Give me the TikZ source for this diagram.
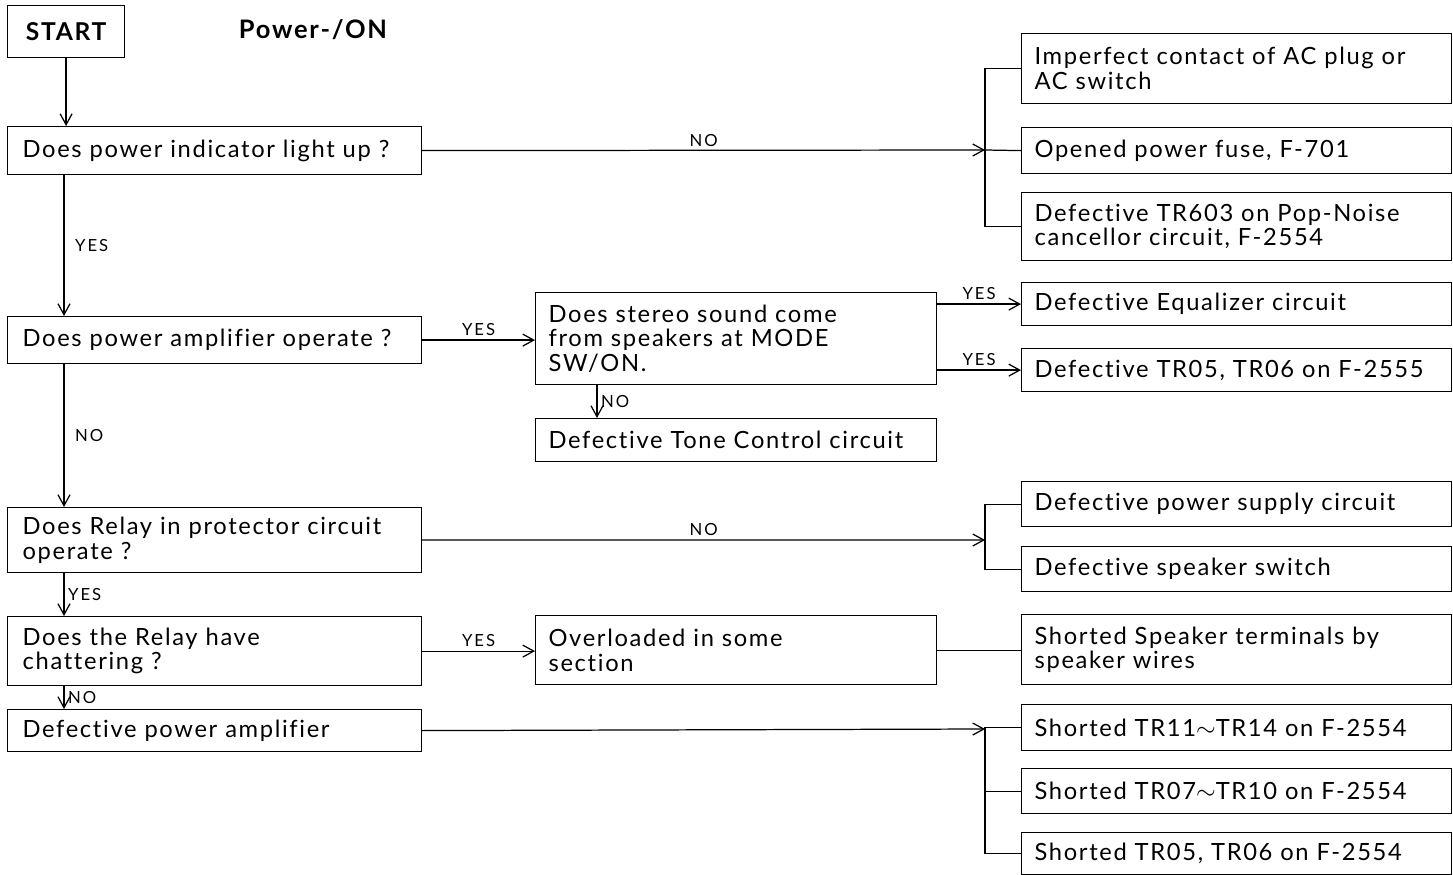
\documentclass[tikz,border=0pt]{standalone}
\usepackage{fontspec}
\setmainfont{Lato}[LetterSpace=7, Ligatures=NoCommon]
\usetikzlibrary{arrows.meta}
\tikzset{
  box/.style={draw, anchor=north west, align=left, inner ysep=1pt, font=\fontsize{13.5}{14}\selectfont},
  lbox/.style={box, text width=7.68cm, inner xsep=0.3cm},
  mbox/.style={box, text width=7.5cm, inner xsep=0.26cm},
  rbox/.style={box, text width=8.08cm, inner xsep=0.26cm},
  lbl/.style={font=\fontsize{9.5}{10}\selectfont\addfontfeature{LetterSpace=12}, inner sep=2pt},
}
\begin{document}
\begin{tikzpicture}[x=0.02cm, y=-0.02cm, line width=0.7pt, >={Straight Barb[length=2.2mm,width=2.4mm]}]
    \useasboundingbox (0,0) rectangle (1453,875);
    % left column
    \node[draw, anchor=north west, minimum width=2.34cm, minimum height=1.04cm, font=\fontsize{14}{15}\selectfont\bfseries] (start) at (7,5) {START};
    \node[font=\fontsize{14.5}{15}\selectfont\bfseries] (title) at (313,30) {Power-/ON};
    \node[lbox, minimum height=0.96cm] (q1) at (7,126) {Does power indicator light up ?};
    \node[lbox, minimum height=0.94cm] (q2) at (7,316) {Does power amplifier operate ?};
    \node[lbox, minimum height=1.3cm] (q4) at (7,507) {Does Relay in protector circuit\\operate ?};
    \node[lbox, minimum height=1.38cm] (q5) at (7,616) {Does the Relay have\\chattering ?};
    \node[lbox, minimum height=0.84cm] (amp) at (7,709) {Defective power amplifier};
    % middle column
    \node[mbox, minimum height=1.84cm] (q3) at (535,292) {Does stereo sound come\\from speakers at MODE\\SW/ON.};
    \node[mbox, minimum height=0.86cm] (tone) at (535,418) {Defective Tone Control circuit};
    \node[mbox, minimum height=1.38cm] (load) at (535,615) {Overloaded in some\\section};
    % right column
    \node[rbox, minimum height=1.4cm] (r1) at (1021,33) {Imperfect contact of AC plug or\\AC switch};
    \node[rbox, minimum height=0.92cm] (r2) at (1021,127) {Opened power fuse, F-701};
    \node[rbox, minimum height=1.36cm] (r3) at (1021,192) {Defective TR603 on Pop-Noise\\cancellor circuit, F-2554};
    \node[rbox, minimum height=0.86cm] (r4) at (1021,282) {Defective Equalizer circuit};
    \node[rbox, minimum height=0.86cm] (r5) at (1021,348) {Defective TR05, TR06 on F-2555};
    \node[rbox, minimum height=0.9cm] (r6) at (1021,481) {Defective power supply circuit};
    \node[rbox, minimum height=0.9cm] (r7) at (1021,546) {Defective speaker switch};
    \node[rbox, minimum height=1.4cm] (r8) at (1021,614) {Shorted Speaker terminals by\\speaker wires};
    \node[rbox, minimum height=0.92cm] (r9) at (1021,704) {Shorted TR11$\sim$TR14 on F-2554};
    \node[rbox, minimum height=0.9cm] (r10) at (1021,768) {Shorted TR07$\sim$TR10 on F-2554};
    \node[rbox, minimum height=0.84cm] (r11) at (1021,832) {Shorted TR05, TR06 on F-2554};
    % junctions
    \coordinate (j1) at (985,150);
    \coordinate (j2) at (985,540);
    \coordinate (j3) at (985,729);

    % vertical flow
    \draw[->] (start.south) -- (start.south |- q1.north);
    \draw[->] ([xshift=1.14cm]q1.south west) -- node[lbl, right=4pt] {YES} ([xshift=1.14cm]q2.north west);
    \draw[->] ([xshift=1.14cm]q2.south west) -- node[lbl, right=4pt] {NO} ([xshift=1.14cm]q4.north west);
    \draw[->] ([xshift=1.14cm]q4.south west) -- node[lbl, right] {YES} ([xshift=1.14cm]q5.north west);
    \draw[->] ([xshift=1.14cm]q5.south west) -- node[lbl, right] {NO} ([xshift=1.14cm]amp.north west);
    \draw[->] ([xshift=1.24cm]q3.south west) -- node[lbl, right] {NO} ([xshift=1.24cm]tone.north west);

    % horizontal flow
    \draw[->] (q1.east) -- node[lbl, above] {NO} (j1);
    \draw (r1.west) -| (j1) |- (r3.west);
    \draw (j1) -- (r2.west);
    \draw[->] (q2.east) -- node[lbl, above] {YES} (q2.east -| q3.west);
    \draw[->] (q3.east |- r4.west) -- node[lbl, above] {YES} (r4.west);
    \draw[->] (q3.east |- r5.west) -- node[lbl, above] {YES} (r5.west);
    \draw[->] (q4.east) -- node[lbl, above] {NO} (j2);
    \draw (r6.west) -| (j2) |- (r7.west);
    \draw[->] (q5.east) -- node[lbl, above] {YES} (q5.east -| load.west);
    \draw (load.east) -- (load.east -| r8.west);
    \draw[->] (amp.east) -- (j3);
    \draw (r9.west) -| (j3) |- (r11.west);
    \draw (j3 |- r10.west) -- (r10.west);
\end{tikzpicture}
\end{document}
